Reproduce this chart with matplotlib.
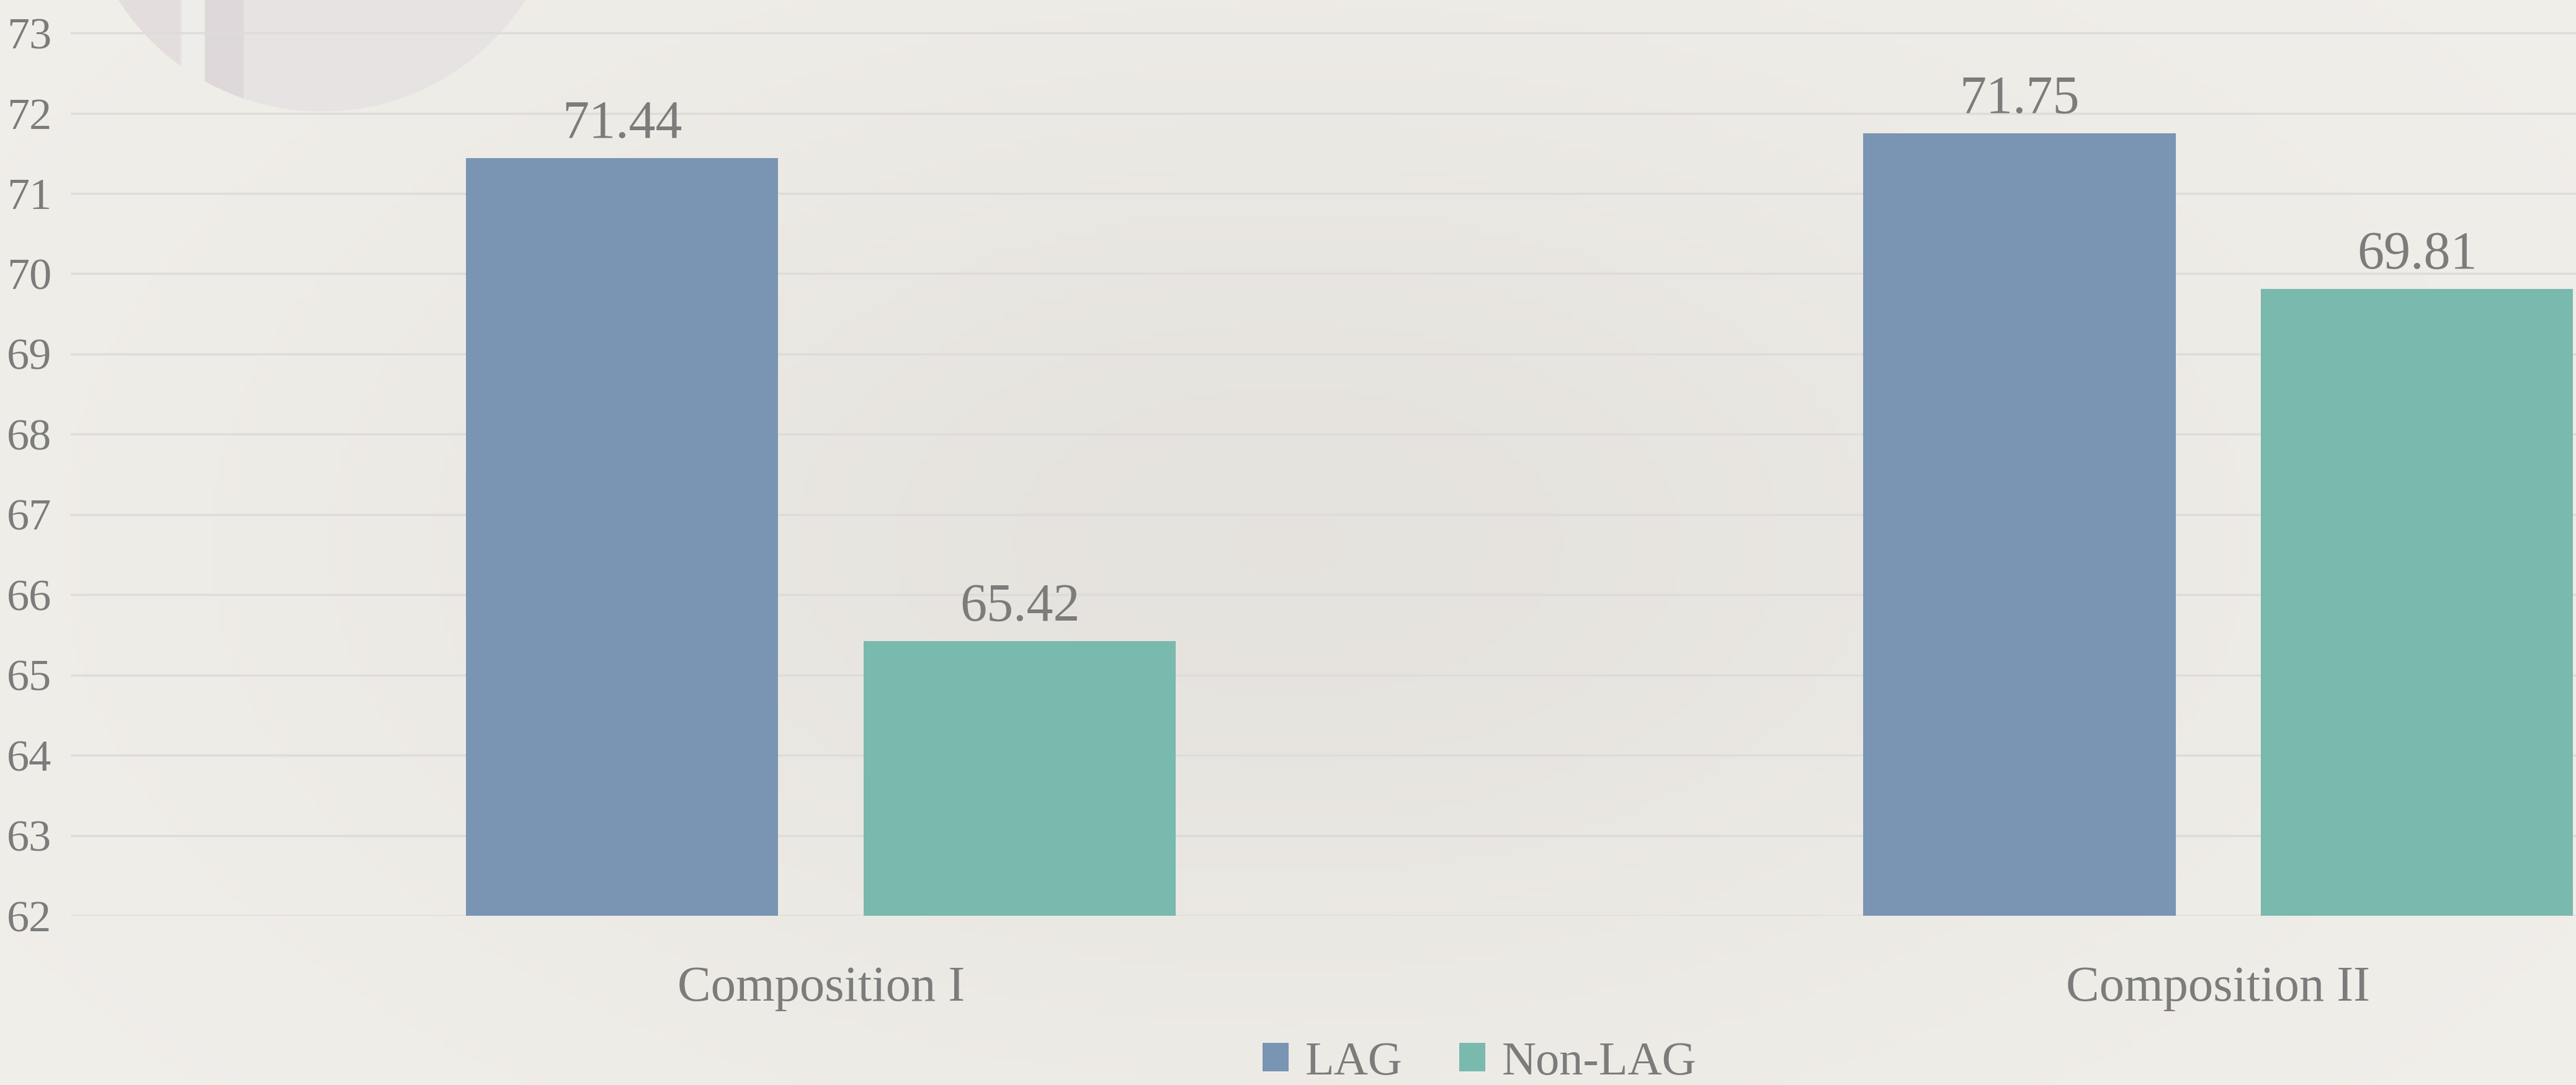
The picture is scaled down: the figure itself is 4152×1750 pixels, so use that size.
import numpy as np
import matplotlib.pyplot as plt
from matplotlib.patches import Circle, Rectangle

# data
categories = ['Composition I', 'Composition II']
series = ['LAG', 'Non-LAG']
lag_vals = [71.44, 71.75]
nonlag_vals = [65.42, 69.81]
yticks = [62, 63, 64, 65, 66, 67, 68, 69, 70, 71, 72, 73]

colors = ['#7a95b3', '#7ab9ad']
txt = '#7b7c7b'
plt.rcParams['font.family'] = ['Liberation Serif', 'DejaVu Serif']

W, H = 4152, 1750
fig = plt.figure(figsize=(W / 100, H / 100), dpi=100)

# paper-like background with a soft darker middle
bg = fig.add_axes([0, 0, 1, 1], zorder=-10)
gx, gy = np.meshgrid(np.linspace(-1, 1, 400), np.linspace(-1, 1, 170))
shade = np.exp(-(gx ** 2 / 0.5 + gy ** 2 / 0.9))
c0 = np.array([0.945, 0.937, 0.918])
c1 = np.array([0.900, 0.890, 0.870])
img = c0[None, None, :] * (1 - shade[..., None]) + c1[None, None, :] * shade[..., None]
bg.imshow(img, extent=[0, W, 0, H], aspect='auto', origin='lower')
# faded decorative circle in the top-left corner
circ = Circle((519, H + 209), 389, facecolor='#e7e1e2', edgecolor='none', alpha=0.8)
bg.add_patch(circ)
for x0, w, c in [(190, 100, '#e2dcdd'), (293, 37, '#f2f0ec'), (330, 63, '#ddd6d8')]:
    r = Rectangle((x0, 0), w, H, facecolor=c, edgecolor='none', alpha=0.8)
    bg.add_patch(r)
    r.set_clip_path(circ)
bg.set_xlim(0, W)
bg.set_ylim(0, H)
bg.axis('off')

ax = fig.add_axes([114 / W, 273 / H, (W - 114) / W, 1477 / H])
ax.patch.set_alpha(0)

x = np.arange(len(categories))
bw = 0.2234
off = 0.1423
b1 = ax.bar(x - off, lag_vals, bw, color=colors[0], label=series[0], zorder=3)
b2 = ax.bar(x + off, nonlag_vals, bw, color=colors[1], label=series[1], zorder=3)
for bars in (b1, b2):
    for b in bars:
        ax.text(b.get_x() + b.get_width() / 2, b.get_height() + 0.11, '%.2f' % b.get_height(),
                ha='center', va='bottom', fontsize=62, color=txt)

ax.set_ylim(62, 73.41)
ax.set_xlim(-0.537, 1.256)
ax.set_yticks(yticks)
ax.yaxis.grid(True, color='#dcdcdb', linewidth=2.5, zorder=0)
ax.set_axisbelow(True)
ax.tick_params(axis='y', length=0, pad=22, labelsize=52, labelcolor=txt)
ax.tick_params(axis='x', length=0, pad=58, labelsize=58, labelcolor=txt)
ax.set_xticks(x)
ax.set_xticklabels(categories)
for s in ax.spines.values():
    s.set_visible(False)

leg = fig.legend(loc='center', bbox_to_anchor=(2385 / W, 36 / H), ncol=2, frameon=False,
                 fontsize=55, labelcolor=txt, handlelength=0.55, handleheight=0.55,
                 handletextpad=0.35, columnspacing=1.2)

fig.savefig('out.png', dpi=100)
